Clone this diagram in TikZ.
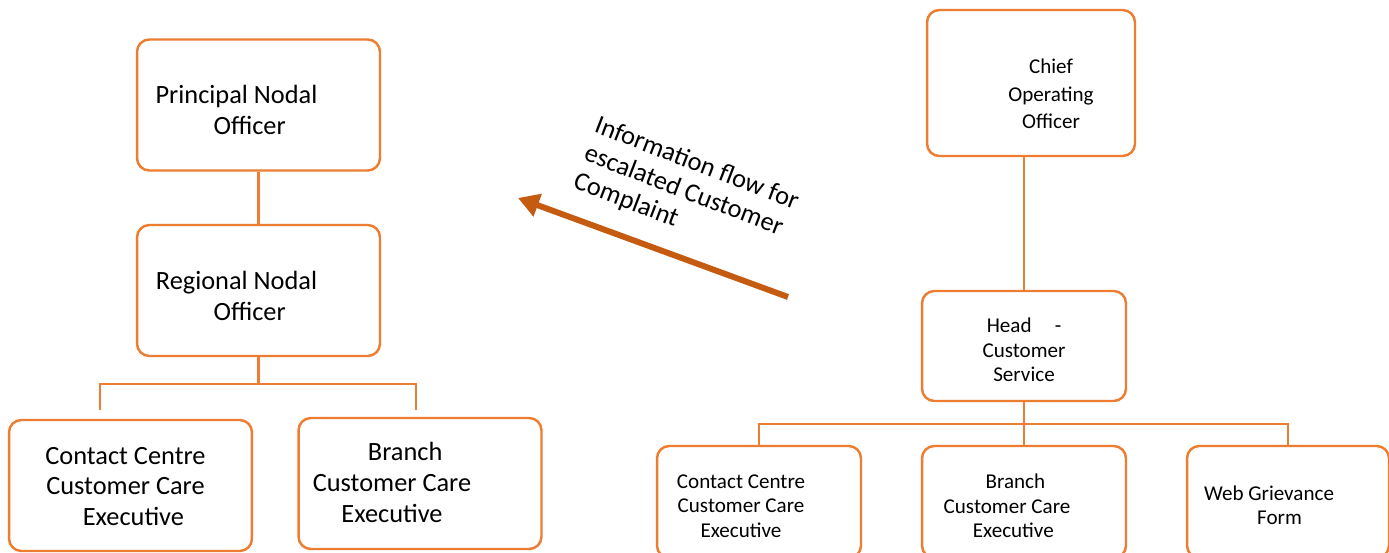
\documentclass[tikz,border=0pt]{standalone}
\usepackage{fontspec}
\setmainfont{Carlito}
\usetikzlibrary{arrows.meta,positioning}
\definecolor{naranja}{RGB}{237,125,49}
\definecolor{naranjaosc}{RGB}{197,90,17}

\begin{document}
\begin{tikzpicture}[x=0.02cm, y=-0.02cm,
    caja/.style={rectangle, draw=naranja, line width=1.4pt, rounded corners=7pt, inner sep=0pt},
    grande/.style={caja, minimum width=4.86cm, minimum height=2.62cm},
    chica/.style={caja, minimum width=4.08cm, minimum height=2.24cm},
    txtgrande/.style={align=center, font=\fontsize{15}{17.6}\selectfont},
    txtchico/.style={align=center, font=\fontsize{12}{13.8}\selectfont},
    linea/.style={draw=naranja, line width=1.4pt},
    flecha/.style={draw=naranjaosc, line width=3.4pt, -{Triangle[length=0.42cm, width=0.46cm]}}]
  \clip (0,0) rectangle (1389,553);

  % Lado izquierdo: oficiales nodales
  \node[grande, label={[txtgrande, xshift=-0.44cm, yshift=-0.1cm]center:{Principal Nodal\\\hspace*{1em}Officer}}] (pno) at (258.5,105) {};
  \node[grande, label={[txtgrande, xshift=-0.44cm, yshift=-0.1cm]center:{Regional Nodal\\\hspace*{1em}Officer}}] (rno) at (258.5,290.5) {};
  \node[grande, label={[txtgrande, xshift=-0.1cm, yshift=-0.02cm]center:{Contact Centre\\Customer Care\\\hspace*{0.6em}Executive}}] (lcc) at (130.5,485.5) {};
  \node[grande, label={[txtgrande, xshift=-0.56cm, yshift=0.02cm]center:{\hspace*{1em}Branch\\Customer Care\\Executive}}] (lbr) at (420,483.5) {};

  \draw[linea] (pno) -- (rno);
  \draw[linea] (rno.south) -- ++(0,27) coordinate (lfork);
  \coordinate (lccstub) at (100,410);
  \coordinate (lbrstub) at (416,410);
  \draw[linea] (lccstub) |- (lfork) -| (lbrstub);

  % Lado derecho: servicio al cliente
  \node[caja, minimum width=4.16cm, minimum height=2.92cm,
        label={[align=center, font=\fontsize{12}{15.6}\selectfont, xshift=0.4cm, yshift=-0.22cm]center:{Chief\\Operating\\Officer}}] (coo) at (1031,83) {};
  \node[caja, minimum width=4.08cm, minimum height=2.2cm,
        label={[txtchico, yshift=-0.08cm]center:{Head\hspace{1.1em}-\\Customer\\Service}}] (hcs) at (1024,346) {};
  \node[chica, label={[txtchico, xshift=-0.36cm, yshift=-0.08cm]center:{Contact Centre\\Customer Care\\Executive}}] (rcc) at (759,502) {};
  \node[chica, label={[txtchico, xshift=-0.34cm, yshift=-0.08cm]center:{\hspace*{0.8em}Branch\\Customer Care\\\hspace*{0.6em}Executive}}] (rbr) at (1024,502) {};
  \node[caja, minimum width=4.04cm, minimum height=2.24cm,
        label={[txtchico, xshift=-0.38cm, yshift=-0.06cm]center:{Web Grievance\\\hspace*{1em}Form}}] (rweb) at (1288,502) {};

  \draw[linea] (hcs.north) -- (hcs.north |- coo.south);
  \draw[linea] (hcs.south) -- (rbr.north);
  \coordinate (rfork) at (1024,424);
  \draw[linea] (rcc.north) |- (rfork) -| (rweb.north);

  % Flecha de escalamiento
  \coordinate (flujoini) at (788,297);
  \coordinate (flujofin) at (518,198);
  \draw[flecha] (flujoini) -- (flujofin);
  \node[rotate=-21, align=left, font=\fontsize{15}{17}\selectfont] (flujotxt) at (686,192)
    {Information flow for\\escalated Customer\\Complaint};
\end{tikzpicture}
\end{document}
